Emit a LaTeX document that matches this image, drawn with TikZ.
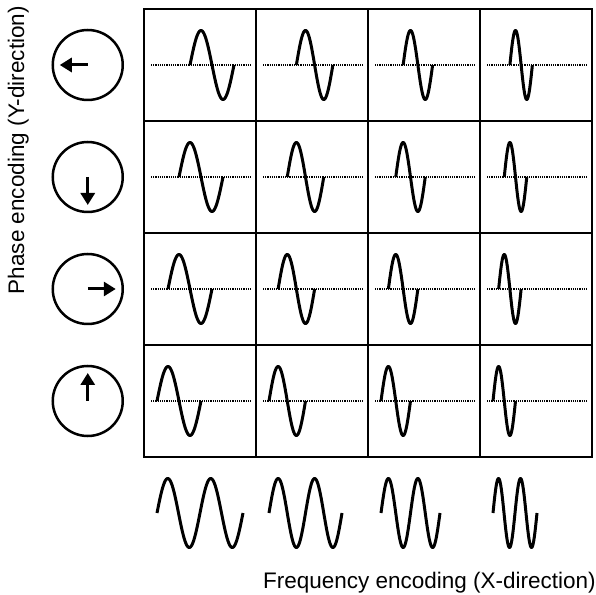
\documentclass[tikz,border=0pt]{standalone}
\usepackage{fontspec}
\setmainfont{Liberation Sans}
\usetikzlibrary{arrows.meta,positioning,calc}

\begin{document}
\begin{tikzpicture}[
    x=1pt, y=1pt,
    cell/.style={draw, line width=1.5pt, minimum size=112pt, inner sep=0pt, outer sep=0pt},
    phase/.style={draw, circle, line width=2.5pt, minimum size=70pt, inner sep=0pt},
    pointer/.style={line width=3pt, -{Triangle[length=12pt,width=14pt]}},
    wave/.style={line width=3pt, line join=round},
    zeroline/.style={line width=1.3pt, dash pattern=on 1.2pt off 1pt},
    axistext/.style={font=\fontsize{22.5}{27}\selectfont, inner sep=0pt}
]
    \useasboundingbox (0,0) rectangle (596,594);

    % Cells
    \foreach \r in {1,...,4}
      \foreach \c in {1,...,4}
        \node[cell] (C\r\c) at ({200+112*(\c-1)},{529-112*(\r-1)}) {};

    % Phase wheels
    \foreach \r in {1,...,4} {
        \pgfmathsetmacro\ang{90*(\r-3)}
        \node[phase, left=20pt of C\r1] (PH\r) {};
        \draw[pointer] (PH\r.center) -- ++(\ang:28);
    }

    % Signal in each cell (shifted a quarter period per row)
    \foreach \c/\P in {1/44,2/36.5,3/29.5,4/22.5}
      \foreach \r in {1,...,4} {
        \pgfmathsetmacro\off{13+(4-\r)*\P/4}
        \draw[zeroline] ($(C\r\c.west)+(7,0)$) -- ($(C\r\c.east)+(-5,0)$);
        \draw[wave, shift={($(C\r\c.west)+(\off,0)$)}]
            plot[domain=0:360, samples=61, variable=\t] ({\t/360*\P}, {34.5*sin(\t)});
      }

    % Frequency waves
    \foreach \c/\P in {1/43,2/36.5,3/29.5,4/22} {
        \coordinate (F\c) at ($(C4\c.west)+(13,-112)$);
        \draw[wave, shift={(F\c)}]
            plot[domain=0:720, samples=121, variable=\t] ({\t/360*\P}, {34.5*sin(\t)});
    }

    % Axis labels
    \node[axistext, anchor=base east] (FREQ) at (596,6) {Frequency encoding (X-direction)};
    \node[axistext, rotate=90, anchor=base] (PHASE) at (24,444) {Phase encoding (Y-direction)};
\end{tikzpicture}
\end{document}
